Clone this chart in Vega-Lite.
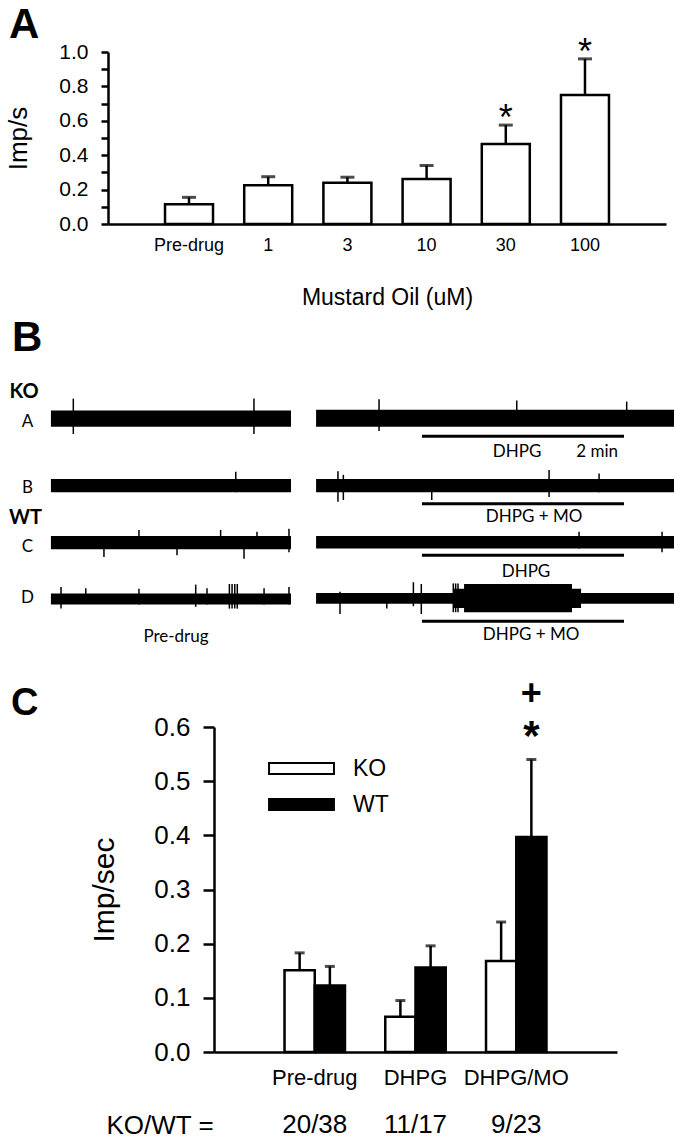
{
  "$schema": "https://vega.github.io/schema/vega-lite/v6.json",
  "padding": {"left": 5, "top": 3, "right": 0, "bottom": 0},
  "spacing": 8,
  "resolve": {"scale": {"fill": "independent"}, "legend": {"fill": "independent"}},
  "config": {
    "view": {"stroke": null},
    "font": "Liberation Sans",
    "axis": {"domain": true, "ticks": true, "domainColor": "black", "tickColor": "black", "labelColor": "black", "titleColor": "black", "labelFont": "Liberation Sans", "titleFont": "Liberation Sans", "titleFontWeight": "normal", "grid": false, "domainWidth": 2.5, "tickWidth": 2.5, "labelOverlap": false},
    "title": {"color": "black", "font": "Liberation Sans", "fontWeight": "bold", "anchor": "start", "frame": "group", "baseline": "alphabetic"}
  },
  "datasets": {
    "dose": [
      {"dose": "Pre-drug", "mean": 0.115, "upper": 0.155, "sig": ""},
      {"dose": "1", "mean": 0.225, "upper": 0.275, "sig": ""},
      {"dose": "3", "mean": 0.24, "upper": 0.272, "sig": ""},
      {"dose": "10", "mean": 0.262, "upper": 0.34, "sig": ""},
      {"dose": "30", "mean": 0.465, "upper": 0.575, "sig": "*"},
      {"dose": "100", "mean": 0.75, "upper": 0.96, "sig": "*"}
    ],
    "bands": [
      {"trace": "A", "part": "pre", "t0": 24.9, "t1": 167.5, "lo": -0.13, "hi": 0.14},
      {"trace": "A", "part": "post", "t0": 182.4, "t1": 395, "lo": -0.13, "hi": 0.155},
      {"trace": "B", "part": "pre", "t0": 24.9, "t1": 167.5, "lo": -1.22, "hi": -1.0},
      {"trace": "B", "part": "post", "t0": 182.4, "t1": 395, "lo": -1.22, "hi": -1.0},
      {"trace": "C", "part": "pre", "t0": 24.9, "t1": 167.5, "lo": -2.17, "hi": -1.95},
      {"trace": "C", "part": "post", "t0": 182.4, "t1": 395, "lo": -2.16, "hi": -1.95},
      {"trace": "D", "part": "pre", "t0": 24.9, "t1": 167.5, "lo": -3.09, "hi": -2.91},
      {"trace": "D", "part": "post", "t0": 182.4, "t1": 395, "lo": -3.08, "hi": -2.9},
      {"trace": "D", "part": "burst", "t0": 264.3, "t1": 339.8, "lo": -3.15, "hi": -2.83},
      {"trace": "D", "part": "burst", "t0": 270.3, "t1": 334.4, "lo": -3.22, "hi": -2.75}
    ],
    "spikes": [
      {"trace": "A", "t": 38.2, "lo": -0.25, "hi": 0.34},
      {"trace": "A", "t": 145.5, "lo": -0.25, "hi": 0.34},
      {"trace": "A", "t": 219.8, "lo": -0.2, "hi": 0.33},
      {"trace": "A", "t": 301.6, "lo": -0.1, "hi": 0.31},
      {"trace": "A", "t": 366.9, "lo": -0.05, "hi": 0.29},
      {"trace": "B", "t": 134.7, "lo": -1.22, "hi": -0.88},
      {"trace": "B", "t": 195.4, "lo": -1.38, "hi": -0.87},
      {"trace": "B", "t": 198.6, "lo": -1.35, "hi": -0.93},
      {"trace": "B", "t": 251.1, "lo": -1.35, "hi": -1.02},
      {"trace": "B", "t": 320.8, "lo": -1.3, "hi": -0.85},
      {"trace": "B", "t": 350.5, "lo": -1.22, "hi": -0.91},
      {"trace": "C", "t": 56.4, "lo": -2.3, "hi": -1.95},
      {"trace": "C", "t": 77.2, "lo": -2.15, "hi": -1.85},
      {"trace": "C", "t": 99.8, "lo": -2.27, "hi": -1.95},
      {"trace": "C", "t": 125.7, "lo": -2.15, "hi": -1.85},
      {"trace": "C", "t": 139.6, "lo": -2.33, "hi": -1.95},
      {"trace": "C", "t": 147.3, "lo": -2.15, "hi": -1.88},
      {"trace": "C", "t": 166.3, "lo": -2.22, "hi": -1.83},
      {"trace": "C", "t": 338.6, "lo": -2.16, "hi": -1.88},
      {"trace": "C", "t": 387.9, "lo": -2.22, "hi": -1.88},
      {"trace": "D", "t": 30.9, "lo": -3.16, "hi": -2.8},
      {"trace": "D", "t": 45.6, "lo": -3.07, "hi": -2.82},
      {"trace": "D", "t": 77.2, "lo": -3.09, "hi": -2.83},
      {"trace": "D", "t": 110.9, "lo": -3.13, "hi": -2.76},
      {"trace": "D", "t": 117.6, "lo": -3.09, "hi": -2.82},
      {"trace": "D", "t": 130.9, "lo": -3.16, "hi": -2.75},
      {"trace": "D", "t": 132.5, "lo": -3.16, "hi": -2.75},
      {"trace": "D", "t": 134.1, "lo": -3.16, "hi": -2.75},
      {"trace": "D", "t": 135.6, "lo": -3.16, "hi": -2.75},
      {"trace": "D", "t": 151.5, "lo": -3.09, "hi": -2.82},
      {"trace": "D", "t": 166.3, "lo": -3.09, "hi": -2.8},
      {"trace": "D", "t": 196.6, "lo": -3.25, "hi": -2.88},
      {"trace": "D", "t": 224.4, "lo": -3.16, "hi": -2.9},
      {"trace": "D", "t": 240.2, "lo": -3.12, "hi": -2.72},
      {"trace": "D", "t": 244.9, "lo": -3.25, "hi": -2.75},
      {"trace": "D", "t": 263.9, "lo": -3.22, "hi": -2.74},
      {"trace": "D", "t": 265.3, "lo": -3.22, "hi": -2.74},
      {"trace": "D", "t": 266.7, "lo": -3.22, "hi": -2.74}
    ],
    "drug": [
      {"trace": "A", "t0": 245.3, "t1": 365.3, "v": -0.289},
      {"trace": "B", "t0": 245.3, "t1": 365.3, "v": -1.411},
      {"trace": "C", "t0": 245.3, "t1": 365.3, "v": -2.272},
      {"trace": "D", "t0": 245.3, "t1": 365.3, "v": -3.372}
    ],
    "blabels": [
      {"text": "KO", "t": 0.3, "v": 0.45, "kind": "geno"},
      {"text": "WT", "t": 0.0, "v": -1.645, "kind": "geno"},
      {"text": "A", "t": 11, "v": -0.05, "kind": "trace"},
      {"text": "B", "t": 11, "v": -1.15, "kind": "trace"},
      {"text": "C", "t": 11, "v": -2.13, "kind": "trace"},
      {"text": "D", "t": 11, "v": -2.98, "kind": "trace"},
      {"text": "DHPG", "t": 301.8, "v": -0.55, "kind": "cond"},
      {"text": "2 min", "t": 349.3, "v": -0.55, "kind": "cond"},
      {"text": "DHPG + MO", "t": 311.9, "v": -1.633, "kind": "cond"},
      {"text": "DHPG", "t": 307.1, "v": -2.55, "kind": "cond"},
      {"text": "DHPG + MO", "t": 310.1, "v": -3.606, "kind": "cond"},
      {"text": "Pre-drug", "t": 99.2, "v": -3.633, "kind": "cond"}
    ],
    "geno": [
      {"cond": "Pre-drug", "geno": "KO", "mean": 0.151, "upper": 0.183, "sig": "", "vsko": ""},
      {"cond": "Pre-drug", "geno": "WT", "mean": 0.123, "upper": 0.158, "sig": "", "vsko": ""},
      {"cond": "DHPG", "geno": "KO", "mean": 0.065, "upper": 0.095, "sig": "", "vsko": ""},
      {"cond": "DHPG", "geno": "WT", "mean": 0.156, "upper": 0.196, "sig": "", "vsko": ""},
      {"cond": "DHPG/MO", "geno": "KO", "mean": 0.168, "upper": 0.24, "sig": "", "vsko": ""},
      {"cond": "DHPG/MO", "geno": "WT", "mean": 0.397, "upper": 0.54, "sig": "*", "vsko": "+"}
    ],
    "ratios": [
      {"cond": "Pre-drug", "n": "20/38"},
      {"cond": "DHPG", "n": "11/17"},
      {"cond": "DHPG/MO", "n": "9/23"}
    ]
  },
  "vconcat": [
    {
      "title": {"text": "A", "fontSize": 42, "dx": 0, "offset": -12},
      "width": 657,
      "height": 172,
      "data": {"name": "dose"},
      "encoding": {
        "x": {"field": "dose", "type": "nominal", "sort": null, "scale": {"range": [99, 657], "paddingInner": 0.394, "paddingOuter": 0.72},
          "axis": {"title": "Mustard Oil (uM)", "labelAngle": 0, "ticks": false, "tickSize": 0, "labelFontSize": 18, "labelPadding": 12, "titleFontSize": 23, "titlePadding": 32}},
        "y": {"field": "mean", "type": "quantitative", "scale": {"domain": [0, 1], "nice": false},
          "axis": {"offset": -99, "title": "Imp/s", "domain": true, "ticks": true, "domainColor": "black", "tickColor": "black", "domainWidth": 2.5, "tickWidth": 2.5, "labelOverlap": false, "values": [0, 0.1, 0.2, 0.3, 0.4, 0.5, 0.6, 0.7, 0.8, 0.9, 1.0], "labelExpr": "round(datum.value*10)%2==0 ? format(datum.value, '.1f') : ''", "tickSize": 7, "labelFontSize": 21, "labelPadding": 13, "titleFontSize": 26, "titlePadding": 27}}
      },
      "layer": [
        {"mark": {"type": "rule", "color": "black", "strokeWidth": 2.5},
          "encoding": {"y2": {"field": "upper"}}},
        {"mark": {"type": "bar", "fill": "white", "stroke": "black", "strokeWidth": 2.5}},
        {"mark": {"type": "tick", "color": "black", "thickness": 3, "size": 14},
          "encoding": {"y": {"field": "upper", "type": "quantitative",
            "axis": {"offset": -99, "title": "Imp/s", "domain": true, "ticks": true, "domainColor": "black", "tickColor": "black", "domainWidth": 2.5, "tickWidth": 2.5, "labelOverlap": false, "values": [0, 0.1, 0.2, 0.3, 0.4, 0.5, 0.6, 0.7, 0.8, 0.9, 1.0], "labelExpr": "round(datum.value*10)%2==0 ? format(datum.value, '.1f') : ''", "tickSize": 7, "labelFontSize": 21, "labelPadding": 13, "titleFontSize": 26, "titlePadding": 27}}}},
        {"mark": {"type": "text", "fontSize": 36, "baseline": "alphabetic", "dy": 5, "color": "black"},
          "encoding": {"y": {"field": "upper", "type": "quantitative",
            "axis": {"offset": -99, "title": "Imp/s", "domain": true, "ticks": true, "domainColor": "black", "tickColor": "black", "domainWidth": 2.5, "tickWidth": 2.5, "labelOverlap": false, "values": [0, 0.1, 0.2, 0.3, 0.4, 0.5, 0.6, 0.7, 0.8, 0.9, 1.0], "labelExpr": "round(datum.value*10)%2==0 ? format(datum.value, '.1f') : ''", "tickSize": 7, "labelFontSize": 21, "labelPadding": 13, "titleFontSize": 26, "titlePadding": 27}},
            "text": {"field": "sig"}}},
        {"data": {"values": [{}]},
          "mark": {"type": "text", "text": "n=8", "fontSize": 22, "dx": -13, "baseline": "middle", "color": "black"},
          "encoding": {"x": {"datum": "Pre-drug"}, "y": {"datum": 0.92,
            "axis": {"offset": -99, "title": "Imp/s", "domain": true, "ticks": true, "domainColor": "black", "tickColor": "black", "domainWidth": 2.5, "tickWidth": 2.5, "labelOverlap": false, "values": [0, 0.1, 0.2, 0.3, 0.4, 0.5, 0.6, 0.7, 0.8, 0.9, 1.0], "labelExpr": "round(datum.value*10)%2==0 ? format(datum.value, '.1f') : ''", "tickSize": 7, "labelFontSize": 21, "labelPadding": 13, "titleFontSize": 26, "titlePadding": 27}}}}
      ]
    },
    {
      "title": {"text": "B", "fontSize": 42, "dx": 3, "offset": 5},
      "width": 665,
      "height": 302,
      "layer": [
        {"data": {"name": "bands"},
          "mark": {"type": "rect", "color": "black"},
          "encoding": {
            "x": {"field": "t0", "type": "quantitative", "scale": {"domain": [0, 395], "nice": false, "zero": false}, "axis": null},
            "x2": {"field": "t1"},
            "y": {"field": "lo", "type": "quantitative", "scale": {"domain": [-4.133, 0.9], "nice": false, "zero": false}, "axis": null},
            "y2": {"field": "hi"}}},
        {"data": {"name": "spikes"},
          "mark": {"type": "rule", "color": "black", "strokeWidth": 1.5},
          "encoding": {
            "x": {"field": "t", "type": "quantitative", "axis": null},
            "y": {"field": "lo", "type": "quantitative", "axis": null},
            "y2": {"field": "hi"}}},
        {"data": {"name": "drug"},
          "mark": {"type": "rule", "color": "black", "strokeWidth": 3},
          "encoding": {
            "x": {"field": "t0", "type": "quantitative", "axis": null},
            "x2": {"field": "t1"},
            "y": {"field": "v", "type": "quantitative", "axis": null}}},
        {"data": {"name": "blabels"},
          "transform": [{"filter": "datum.kind == 'geno'"}],
          "mark": {"type": "text", "font": "Lato", "fontWeight": "bold", "fontSize": 20, "align": "left", "baseline": "middle", "color": "black"},
          "encoding": {
            "x": {"field": "t", "type": "quantitative", "axis": null},
            "y": {"field": "v", "type": "quantitative", "axis": null},
            "text": {"field": "text"}}},
        {"data": {"name": "blabels"},
          "transform": [{"filter": "datum.kind != 'geno'"}],
          "mark": {"type": "text", "font": "Lato", "fontSize": 17, "align": "center", "baseline": "middle", "color": "black"},
          "encoding": {
            "x": {"field": "t", "type": "quantitative", "axis": null},
            "y": {"field": "v", "type": "quantitative", "axis": null},
            "text": {"field": "text"}}}
      ]
    },
    {
      "title": {"text": "C", "fontSize": 38, "dx": 2, "offset": -47},
      "width": 608,
      "height": 325,
      "encoding": {
        "x": {"field": "cond", "type": "nominal", "sort": ["Pre-drug", "DHPG", "DHPG/MO"], "scale": {"range": [205, 608], "paddingInner": 0.4, "paddingOuter": 0.7},
          "axis": {"title": "KO/WT =", "labelAngle": 0, "ticks": false, "tickSize": 0, "labelFontSize": 22, "labelPadding": 15, "titleFontSize": 26, "titleX": 97, "titleY": 73, "titleAlign": "left", "titleBaseline": "middle", "titleAnchor": "start"}}
      },
      "layer": [
        {"data": {"name": "geno"},
          "mark": {"type": "rule", "color": "black", "strokeWidth": 2.5},
          "encoding": {
            "xOffset": {"field": "geno", "type": "nominal", "sort": ["KO", "WT"]},
            "y": {"field": "mean", "type": "quantitative", "scale": {"domain": [0, 0.6], "nice": false},
              "axis": {"offset": -205, "title": "Imp/sec", "domain": true, "ticks": true, "domainColor": "black", "tickColor": "black", "domainWidth": 2.5, "tickWidth": 2.5, "labelOverlap": false, "values": [0, 0.1, 0.2, 0.3, 0.4, 0.5, 0.6], "format": ".1f", "tickSize": 11, "labelFontSize": 26, "labelPadding": 13, "titleFontSize": 30, "titlePadding": 34}},
            "y2": {"field": "upper"}}},
        {"data": {"name": "geno"},
          "mark": {"type": "tick", "color": "black", "thickness": 3, "size": 10},
          "encoding": {
            "xOffset": {"field": "geno", "type": "nominal", "sort": ["KO", "WT"]},
            "y": {"field": "upper", "type": "quantitative",
              "axis": {"offset": -205, "title": "Imp/sec", "domain": true, "ticks": true, "domainColor": "black", "tickColor": "black", "domainWidth": 2.5, "tickWidth": 2.5, "labelOverlap": false, "values": [0, 0.1, 0.2, 0.3, 0.4, 0.5, 0.6], "format": ".1f", "tickSize": 11, "labelFontSize": 26, "labelPadding": 13, "titleFontSize": 30, "titlePadding": 34}}}},
        {"data": {"name": "geno"},
          "mark": {"type": "bar", "stroke": "black", "strokeWidth": 2.5},
          "encoding": {
            "xOffset": {"field": "geno", "type": "nominal", "sort": ["KO", "WT"]},
            "y": {"field": "mean", "type": "quantitative",
              "axis": {"offset": -205, "title": "Imp/sec", "domain": true, "ticks": true, "domainColor": "black", "tickColor": "black", "domainWidth": 2.5, "tickWidth": 2.5, "labelOverlap": false, "values": [0, 0.1, 0.2, 0.3, 0.4, 0.5, 0.6], "format": ".1f", "tickSize": 11, "labelFontSize": 26, "labelPadding": 13, "titleFontSize": 30, "titlePadding": 34}},
            "fill": {"field": "geno", "type": "nominal", "scale": {"domain": ["KO", "WT"], "range": ["white", "black"]},
              "legend": {"title": null, "orient": "none", "legendX": 281, "legendY": 30, "symbolType": "M-5.9,-1H5.9V1H-5.9Z", "symbolSize": 121, "symbolStrokeColor": "black", "symbolStrokeWidth": 2, "labelFontSize": 23, "labelFont": "Liberation Sans", "labelColor": "black", "labelOffset": 40, "rowPadding": 12}}}},
        {"data": {"name": "geno"},
          "mark": {"type": "text", "fontSize": 42, "fontWeight": "bold", "baseline": "alphabetic", "dy": -10, "color": "black"},
          "encoding": {
            "xOffset": {"field": "geno", "type": "nominal", "sort": ["KO", "WT"]},
            "y": {"field": "upper", "type": "quantitative",
              "axis": {"offset": -205, "title": "Imp/sec", "domain": true, "ticks": true, "domainColor": "black", "tickColor": "black", "domainWidth": 2.5, "tickWidth": 2.5, "labelOverlap": false, "values": [0, 0.1, 0.2, 0.3, 0.4, 0.5, 0.6], "format": ".1f", "tickSize": 11, "labelFontSize": 26, "labelPadding": 13, "titleFontSize": 30, "titlePadding": 34}},
            "text": {"field": "sig"}}},
        {"data": {"name": "geno"},
          "mark": {"type": "text", "fontSize": 36, "fontWeight": "bold", "baseline": "alphabetic", "dy": -55, "color": "black"},
          "encoding": {
            "xOffset": {"field": "geno", "type": "nominal", "sort": ["KO", "WT"]},
            "y": {"field": "upper", "type": "quantitative",
              "axis": {"offset": -205, "title": "Imp/sec", "domain": true, "ticks": true, "domainColor": "black", "tickColor": "black", "domainWidth": 2.5, "tickWidth": 2.5, "labelOverlap": false, "values": [0, 0.1, 0.2, 0.3, 0.4, 0.5, 0.6], "format": ".1f", "tickSize": 11, "labelFontSize": 26, "labelPadding": 13, "titleFontSize": 30, "titlePadding": 34}},
            "text": {"field": "vsko"}}},
        {"data": {"name": "ratios"},
          "mark": {"type": "text", "fontSize": 26, "baseline": "middle", "color": "black"},
          "encoding": {
            "y": {"datum": -0.135,
              "axis": {"offset": -205, "title": "Imp/sec", "domain": true, "ticks": true, "domainColor": "black", "tickColor": "black", "domainWidth": 2.5, "tickWidth": 2.5, "labelOverlap": false, "values": [0, 0.1, 0.2, 0.3, 0.4, 0.5, 0.6], "format": ".1f", "tickSize": 11, "labelFontSize": 26, "labelPadding": 13, "titleFontSize": 30, "titlePadding": 34}},
            "text": {"field": "n"}}}
      ]
    }
  ]
}
